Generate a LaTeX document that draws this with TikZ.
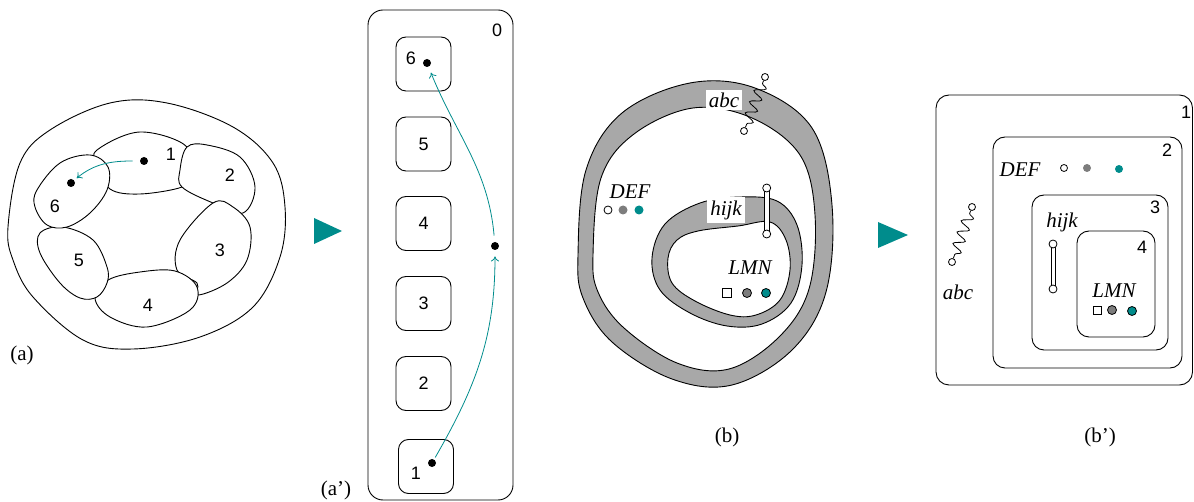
\documentclass[tikz,border=0pt]{standalone}
\usepackage{fontspec}
\setmainfont{Liberation Serif}
\setsansfont{Liberation Sans}
\usetikzlibrary{decorations.pathmorphing,arrows.meta}
\definecolor{tealc}{RGB}{0,140,140}
\definecolor{ringgray}{RGB}{168,168,168}
\definecolor{dotgray}{RGB}{125,125,125}
\begin{document}
\begin{tikzpicture}[x=1pt,y=-1pt,line width=0.9pt,
  num/.style={font=\sffamily\fontsize{18}{18}\selectfont, inner sep=0pt},
  lab/.style={font=\fontsize{21}{21}\selectfont, inner sep=0pt},
  itl/.style={font=\itshape\fontsize{21}{21}\selectfont, inner sep=0pt},
  bdot/.style={circle, fill=black, inner sep=0pt, minimum size=8pt},
  ocirc/.style={circle, draw, fill=white, inner sep=0pt, minimum size=8pt, line width=0.8pt},
  gdot/.style={circle, fill=dotgray, inner sep=0pt, minimum size=9pt},
  tdot/.style={circle, fill=tealc, inner sep=0pt, minimum size=9pt},
  sqr/.style={draw, fill=white, inner sep=0pt, minimum size=9pt, line width=0.8pt},
  cellbox/.style={draw, rounded corners=10pt, minimum width=55pt, minimum height=54pt, inner sep=0pt, font=\sffamily\fontsize{18}{18}\selectfont},
  arr/.style={tealc, line width=0.8pt, -{To[length=5pt,width=8pt]}},
  spring/.style={decorate, decoration={snake, segment length=12pt, amplitude=5.5pt, pre length=3pt, post length=3pt}, line width=0.8pt},
  ring/.style={fill=ringgray, even odd rule},
  tri/.style={fill=tealc}]
\useasboundingbox (0,0) rectangle (1194,502);

% ---------------- (a) ----------------
\draw plot[smooth cycle, tension=0.6] coordinates {(8,227) (20,163) (50,130) (110,103) (167,103) (233,127) (273,163) (285,207) (280,257) (253,307) (200,337) (133,349) (83,340) (33,297) (13,260)};
% cells
\draw[fill=white] plot[smooth cycle, tension=0.6] coordinates {(97,150) (140,132) (187,147) (180,177) (182,187) (140,194) (110,189) (98,165)};
\draw[fill=white] plot[smooth cycle, tension=0.6] coordinates {(187,147) (207,145) (240,157) (255,187) (243,213) (213,203) (182,187) (180,170)};
\draw[fill=white] plot[smooth cycle, tension=0.6] coordinates {(213,203) (233,207) (250,227) (247,260) (227,283) (198,295) (197,283) (177,270) (180,240)};
\draw[fill=white] plot[smooth cycle, tension=0.6] coordinates {(108,280) (140,272) (175,271) (197,287) (190,310) (147,327) (110,317) (95,298)};
\draw[fill=white] plot[smooth cycle, tension=0.6] coordinates {(40,233) (63,227) (93,240) (107,267) (107,283) (97,297) (80,298) (60,283) (40,253)};
\draw[fill=white] plot[smooth cycle, tension=0.6] coordinates {(37,190) (60,163) (90,155) (108,167) (107,190) (90,213) (67,227) (47,225) (35,207)};
\node[num] (n1) at (171,154) {1};
\node[num] (n2) at (230,175) {2};
\node[num] (n3) at (220,250) {3};
\node[num] (n4) at (148,305) {4};
\node[num] (n5) at (79,260) {5};
\node[num] (n6) at (55,206) {6};
\node[bdot] (a1) at (144,161) {};
\node[bdot] (a6) at (71,183) {};
\draw[arr, shorten <=7pt, shorten >=3pt] (a1) to[out=180, in=40] (a6);
\node[lab] (la) at (22,355) {(a)};

\fill[tri] (314,218) -- (342,231) -- (314,244) -- cycle;

% ---------------- (a') ----------------
\draw[rounded corners=15pt] (368,10) rectangle (513,500);
\node[num] (z0) at (497,30) {0};
\node[cellbox] (k6) at (423.5,64) {};
\node[cellbox] (k5) at (423.5,144) {5};
\node[cellbox] (k4) at (423.5,223.5) {4};
\node[cellbox] (k3) at (423.5,303.5) {3};
\node[cellbox] (k2) at (423.5,383.5) {2};
\node[cellbox] (k1) at (426,466.5) {};
\node[num] (k6l) at (411,58) {6};
\node[num] (k1l) at (416,473) {1};
\node[bdot] (d6) at (427,63) {};
\node[bdot] (d1) at (432,463) {};
\node[bdot] (dr) at (495,246) {};
\draw[arr, shorten <=2pt, shorten >=6pt] (d1) to[out=60, in=-90] (dr);
\draw[arr, shorten <=6pt, shorten >=6pt] (dr) to[out=95, in=-68] (d6);
\node[lab] (lap) at (336,490) {(a’)};

% ---------------- (b) ----------------
\fill[ring] plot[smooth cycle, tension=0.6] coordinates {(578,255) (586,170) (622,113) (690,83) (755,88) (812,128) (832,205) (826,292) (792,350) (732,385) (672,379) (612,342) (583,298)}
  plot[smooth cycle, tension=0.6] coordinates {(593,255) (601,178) (634,134) (693,108) (752,118) (800,155) (815,215) (809,289) (779,337) (729,369) (677,363) (624,328) (598,292)};
\draw plot[smooth cycle, tension=0.6] coordinates {(578,255) (586,170) (622,113) (690,83) (755,88) (812,128) (832,205) (826,292) (792,350) (732,385) (672,379) (612,342) (583,298)};
\draw plot[smooth cycle, tension=0.6] coordinates {(593,255) (601,178) (634,134) (693,108) (752,118) (800,155) (815,215) (809,289) (779,337) (729,369) (677,363) (624,328) (598,292)};

\fill[ring] plot[smooth cycle, tension=0.6] coordinates {(652,258) (665,224) (700,203) (740,197) (777,201) (797,225) (802,265) (791,303) (762,324) (727,326) (690,313) (660,290)}
  plot[smooth cycle, tension=0.6] coordinates {(668,258) (677,240) (698,231) (738,226) (770,222) (786,240) (790,270) (780,300) (756,315) (730,315) (695,301) (672,283)};
\draw plot[smooth cycle, tension=0.6] coordinates {(652,258) (665,224) (700,203) (740,197) (777,201) (797,225) (802,265) (791,303) (762,324) (727,326) (690,313) (660,290)};
\draw plot[smooth cycle, tension=0.6] coordinates {(668,258) (677,240) (698,231) (738,226) (770,222) (786,240) (790,270) (780,300) (756,315) (730,315) (695,301) (672,283)};

\node[itl, fill=white, inner xsep=3pt, inner ysep=3pt] (abc) at (724,100) {abc};
\node[ocirc, minimum size=7pt] (s1) at (765,77) {};
\node[ocirc, minimum size=7pt] (s2) at (744,131) {};
\draw[spring] (s1) -- (s2);

\node[itl, fill=white, inner xsep=3pt, inner ysep=3pt] (hijk) at (726,210) {hijk};
\draw[fill=white, line width=0.8pt] (764.2,188) rectangle (769.2,234);
\node[ocirc] (h1) at (766.7,188) {};
\node[ocirc] (h2) at (766.7,234) {};

\node[itl] (def) at (630,192) {DEF};
\node[ocirc] (e1) at (608,210) {};
\node[gdot] (e2) at (623,210) {};
\node[tdot] (e3) at (639,210) {};

\node[itl] (lmn) at (750,268) {LMN};
\node[sqr] (m1) at (727,293) {};
\node[gdot, draw, line width=0.8pt] (m2) at (747,293) {};
\node[tdot, draw, line width=0.8pt] (m3) at (766,293) {};
\node[lab] (lb) at (727,437) {(b)};

\fill[tri] (878,222) -- (908,235) -- (878,248) -- cycle;

% ---------------- (b') ----------------
\draw[rounded corners=13pt] (936,95) rectangle (1192.5,385);
\draw[rounded corners=12pt] (993,137) rectangle (1182,368);
\draw[rounded corners=12pt] (1032,195) rectangle (1168,350);
\draw[rounded corners=12pt] (1077,231) rectangle (1155,337);
\node[num] (q1) at (1186,112) {1};
\node[num] (q2) at (1167,150) {2};
\node[num] (q3) at (1155,207) {3};
\node[num] (q4) at (1142,247) {4};

\node[ocirc, minimum size=7pt] (t1) at (972,207) {};
\node[ocirc, minimum size=7pt] (t2) at (952,262) {};
\draw[spring] (t1) -- (t2);
\node[itl] (abc2) at (958,292) {abc};

\node[itl] (def2) at (1020,170) {DEF};
\node[ocirc, minimum size=7pt] (f1) at (1064,168) {};
\node[gdot, minimum size=8pt] (f2) at (1087,168) {};
\node[tdot, minimum size=8pt] (f3) at (1119,169) {};

\node[itl] (hijk2) at (1062,222) {hijk};
\draw[fill=white, line width=0.8pt] (1051,244) rectangle (1055,289);
\node[ocirc] (g1) at (1053,244) {};
\node[ocirc] (g2) at (1053,289) {};

\node[itl] (lmn2) at (1114,291) {LMN};
\node[sqr, minimum size=8pt] (p1) at (1097,310) {};
\node[gdot, draw, line width=0.8pt] (p2) at (1112,310) {};
\node[tdot, draw, line width=0.8pt] (p3) at (1132,311) {};
\node[lab] (lbp) at (1100,437) {(b’)};
\end{tikzpicture}
\end{document}
